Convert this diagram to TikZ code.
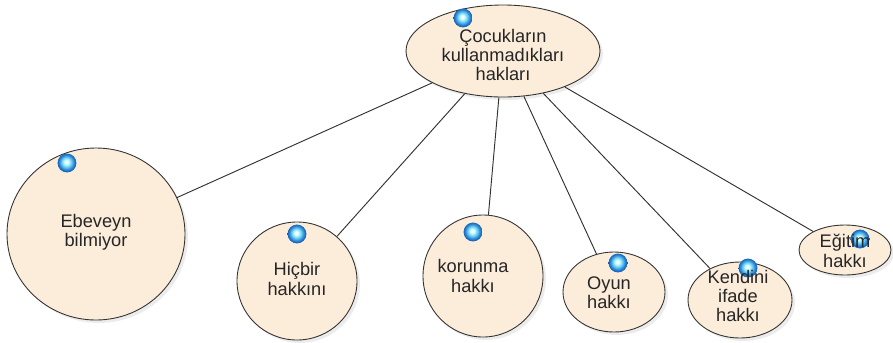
\documentclass[tikz,border=0pt]{standalone}
\usepackage{fontspec}
\setmainfont{Liberation Sans}
\usetikzlibrary{shapes.geometric, shadows}
\definecolor{bubblefill}{RGB}{252,236,218}
\definecolor{linkgray}{RGB}{50,50,50}
\definecolor{balltone}{RGB}{45,140,220}
\definecolor{ballrim}{RGB}{20,90,175}
\pgfdeclareradialshading{bluebead}{\pgfpoint{-2bp}{3bp}}{%
  color(0bp)=(white); color(5bp)=(cyan!15!white); color(12bp)=(cyan!40!balltone!60!white);
  color(19bp)=(balltone); color(25bp)=(ballrim); color(50bp)=(ballrim)}

\begin{document}
\begin{tikzpicture}[
x=0.85pt, y=-0.85pt,
bubble/.style 2 args={ellipse, draw=black!80, line width=0.75pt, fill=bubblefill,
  inner sep=0pt, minimum width=#1*1.7pt, minimum height=#2*1.7pt,
  drop shadow={opacity=0.15, shadow xshift=2.5pt, shadow yshift=-2.5pt}},
bubbletext/.style={align=center, inner sep=0pt, text=black!85,
  font=\fontsize{15.5}{16.5}\selectfont},
ballmark/.style={circle, inner sep=0pt, minimum size=16pt, shading=bluebead},
link/.style={draw=linkgray, line width=0.8pt},
]
\useasboundingbox (0,0) rectangle (893,342);

% bubbles
\node[bubble={97}{46}] (root) at (503,51) {};
\node[bubble={89}{86}] (ebeveyn) at (96,234) {};
\node[bubble={60}{59}] (hicbir) at (297,281) {};
\node[bubble={60}{61}] (korunma) at (483,276) {};
\node[bubble={51}{40}] (oyun) at (614,292) {};
\node[bubble={52}{38}] (kendini) at (740,300) {};
\node[bubble={46}{25}] (egitim) at (845,250) {};

% connectors
\foreach \leaf in {ebeveyn,hicbir,korunma,oyun,kendini,egitim}
  \draw[link] (root) -- (\leaf);

% blue markers
\node[ballmark] (ball-root) at (463,18) {};
\node[ballmark] (ball-ebeveyn) at (67,163) {};
\node[ballmark] (ball-hicbir) at (297,234) {};
\node[ballmark] (ball-korunma) at (473,232) {};
\node[ballmark] (ball-oyun) at (618,263) {};
\node[ballmark] (ball-kendini) at (748,268) {};
\node[ballmark] (ball-egitim) at (860,239) {};

% labels
\node[bubbletext] (root-text) at (503,55) {Çocukların\\kullanmadıkları\\hakları};
\node[bubbletext] (ebeveyn-text) at (96,232) {Ebeveyn\\bilmiyor};
\node[bubbletext] (hicbir-text) at (297,279) {Hiçbir\\hakkını};
\node[bubbletext] (korunma-text) at (473,276) {korunma\\hakkı};
\node[bubbletext] (oyun-text) at (609,293) {Oyun\\hakkı};
\node[bubbletext] (kendini-text) at (738,296) {Kendini\\ifade\\hakkı};
\node[bubbletext] (egitim-text) at (845,251) {Eğitim\\hakkı};
\end{tikzpicture}
\end{document}
